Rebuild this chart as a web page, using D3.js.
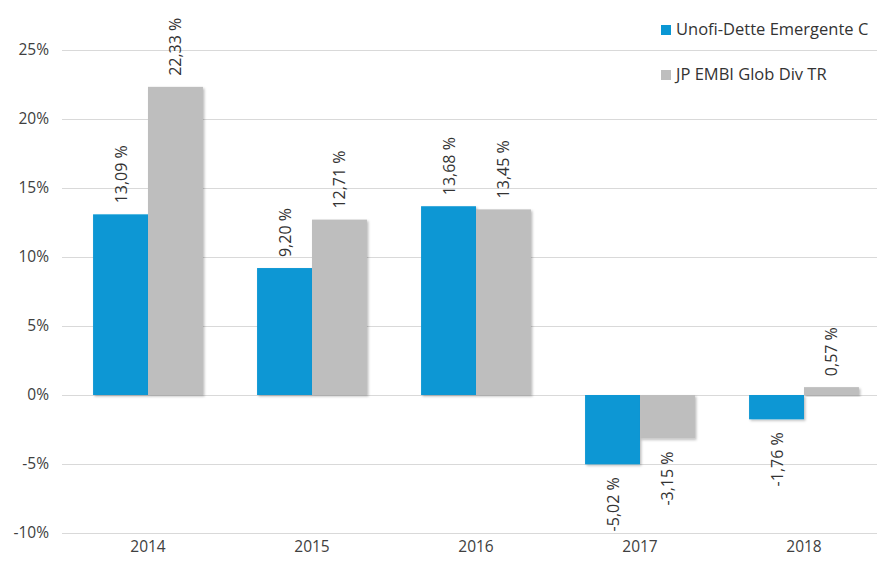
<!DOCTYPE html>
<html>
<head>
<meta charset="utf-8">
<script src="https://cdn.jsdelivr.net/npm/d3@7"></script>
<style>
  body { margin: 0; background: #fff; }
  svg { display: block; font-family: "Open Sans", "Noto Sans", sans-serif; }
</style>
</head>
<body>
<svg id="chart"></svg>
<script>
"use strict";

// data
const years = ["2014", "2015", "2016", "2017", "2018"];
const seriesNames = ["Unofi-Dette Emergente C", "JP EMBI Glob Div TR"];
const fundValues = [13.09, 9.2, 13.68, -5.02, -1.76];
const indexValues = [22.33, 12.71, 13.45, -3.15, 0.57];
const yTicks = [-10, -5, 0, 5, 10, 15, 20, 25];
const colors = ["#0a97d4", "#bebebe"];

const rows = years.map((y, i) => ({ year: y, values: [fundValues[i], indexValues[i]] }));

const width = 877;
const height = 564;

const svg = d3.select("#chart").attr("width", width).attr("height", height);

const x = d3.scaleBand()
  .domain(years)
  .range([66, 886])
  .paddingInner(0.33)
  .paddingOuter(0.165);

const x1 = d3.scaleBand()
  .domain([0, 1])
  .range([0, x.bandwidth()]);

const y = d3.scaleLinear()
  .domain([-10, 25])
  .range([533, 50]);

// grid lines
svg.append("g")
  .selectAll("line")
  .data(yTicks)
  .join("line")
  .attr("x1", 62)
  .attr("x2", width)
  .attr("y1", d => Math.round(y(d)) + 0.5)
  .attr("y2", d => Math.round(y(d)) + 0.5)
  .attr("stroke", "#d9d9d9")
  .attr("stroke-width", 1);

// y axis labels
const yaxis = d3.axisLeft(y).tickValues(yTicks).tickFormat(d => d + "%").tickSize(0).tickPadding(0);
svg.append("g")
  .attr("transform", "translate(49,0)")
  .call(yaxis)
  .call(g => g.select(".domain").remove())
  .selectAll("text")
  .attr("font-size", 15.5)
  .attr("font-family", "'Open Sans', sans-serif")
  .attr("fill", "#404040");

// x axis labels
const xaxis = d3.axisBottom(x).tickSize(0).tickPadding(0);
svg.append("g")
  .attr("transform", "translate(0,541)")
  .call(xaxis)
  .call(g => g.select(".domain").remove())
  .selectAll("text")
  .attr("font-size", 15.5)
  .attr("font-family", "'Open Sans', sans-serif")
  .attr("fill", "#404040");

// shadow filter
const defs = svg.append("defs");
const f = defs.append("filter").attr("id", "shadow").attr("x", "-10%").attr("y", "-10%").attr("width", "130%").attr("height", "130%");
f.append("feDropShadow").attr("dx", 1.5).attr("dy", 1.5).attr("stdDeviation", 1.2).attr("flood-color", "#000").attr("flood-opacity", 0.25);

// bars
const groups = svg.append("g")
  .selectAll("g")
  .data(rows)
  .join("g")
  .attr("transform", d => `translate(${x(d.year)},0)`);

groups.selectAll("rect")
  .data(d => d.values.map((v, i) => ({ v, i })))
  .join("rect")
  .attr("x", d => x1(d.i))
  .attr("y", d => y(Math.max(0, d.v)))
  .attr("width", x1.bandwidth())
  .attr("height", d => Math.abs(y(d.v) - y(0)))
  .attr("fill", d => colors[d.i])
  .attr("filter", "url(#shadow)");

// value labels (rotated)
const fmt = v => v.toFixed(2).replace(".", ",") + " %";
groups.selectAll("text.val")
  .data(d => d.values.map((v, i) => ({ v, i })))
  .join("text")
  .attr("class", "val")
  .attr("transform", d => {
    const cx = x1(d.i) + x1.bandwidth() / 2 + 6;
    const cy = d.v >= 0 ? y(d.v) - 11 : y(d.v) + 13;
    return `translate(${cx},${cy}) rotate(-90)`;
  })
  .attr("text-anchor", d => d.v >= 0 ? "start" : "end")
  .attr("font-size", 16)
  .attr("font-family", "'Open Sans', sans-serif")
  .attr("fill", "#333")
  .text(d => fmt(d.v));

// legend
const legend = svg.append("g")
  .selectAll("g")
  .data(seriesNames)
  .join("g")
  .attr("transform", (d, i) => `translate(661,${25 + i * 45})`);

legend.append("rect")
  .attr("width", 10)
  .attr("height", 10)
  .attr("fill", (d, i) => colors[i]);

legend.append("text")
  .attr("x", 15)
  .attr("y", 10)
  .attr("font-size", 16.5)
  .attr("font-family", "'Open Sans', sans-serif")
  .attr("fill", "#333")
  .text(d => d);
</script>
</body>
</html>
